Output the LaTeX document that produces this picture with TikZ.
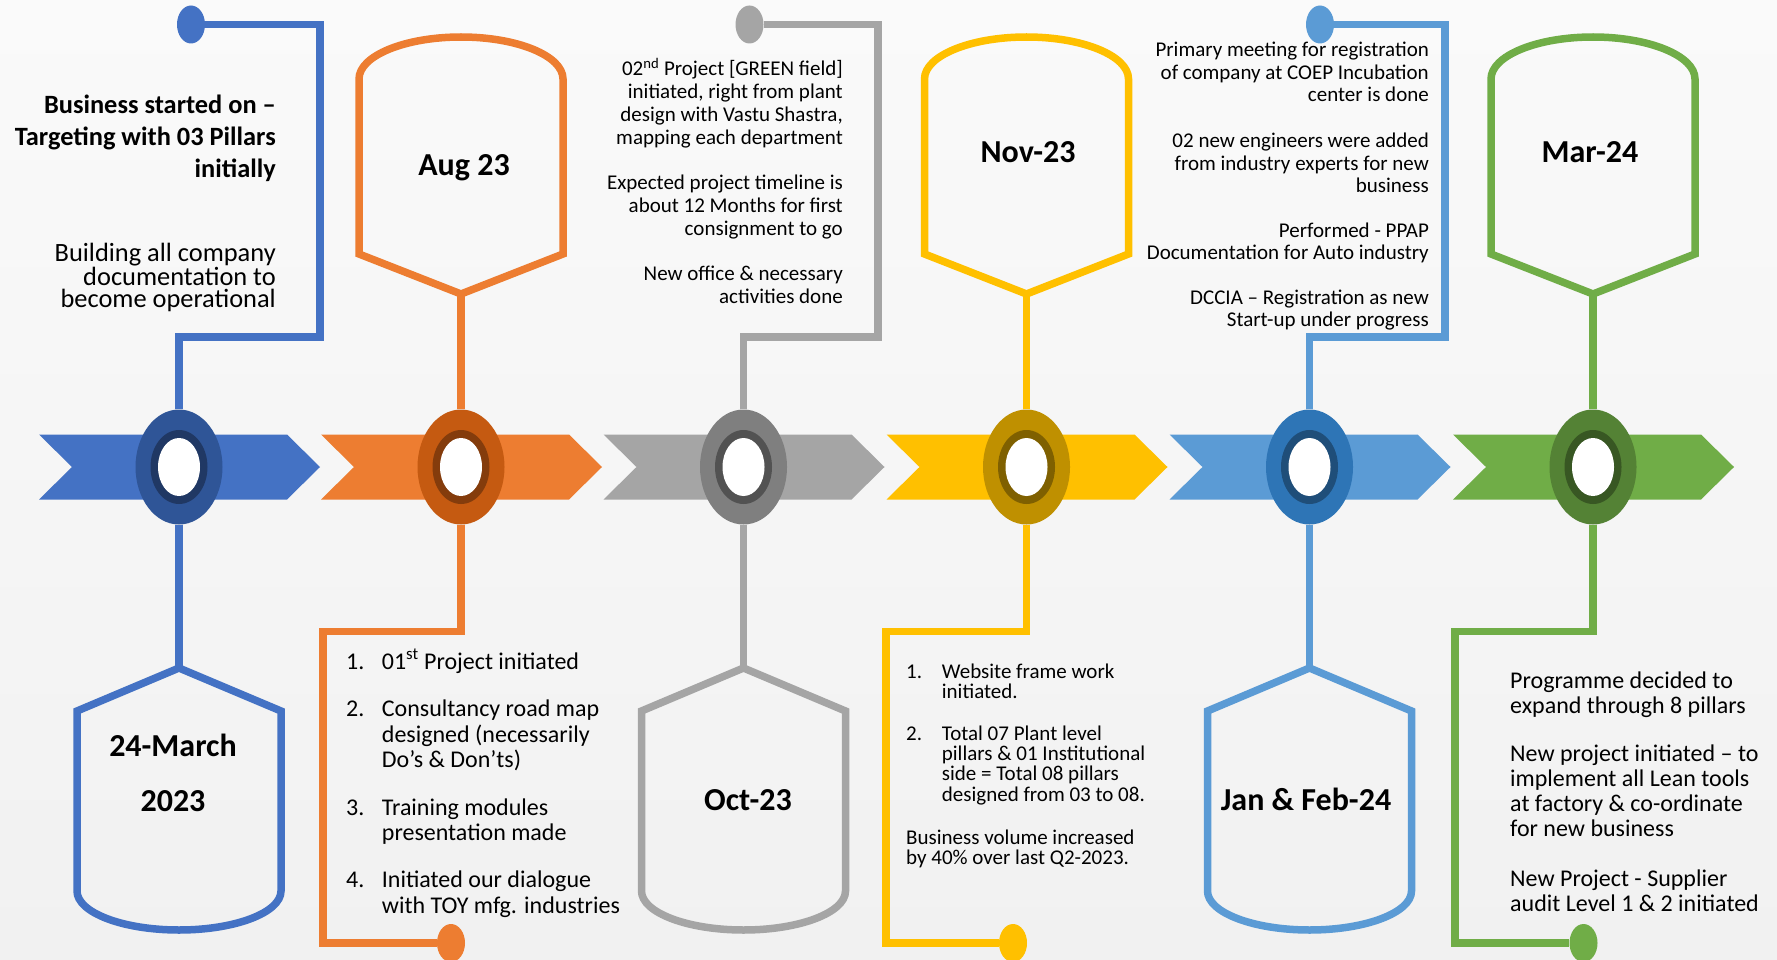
\documentclass[tikz,border=0pt]{standalone}
\usepackage{fontspec}
\setmainfont{Carlito}
\usepackage{tikz}
\usetikzlibrary{shapes.geometric, positioning, calc}
\usepackage{xcolor}

\definecolor{bgTop}{HTML}{FAFAFA}
\definecolor{bgBot}{HTML}{F1F1F1}
\definecolor{blueA}{HTML}{4472C4}
\definecolor{blueB}{HTML}{2F5597}
\definecolor{blueC}{HTML}{203864}
\definecolor{orngA}{HTML}{ED7D31}
\definecolor{orngB}{HTML}{C55A11}
\definecolor{orngC}{HTML}{843C0C}
\definecolor{grayA}{HTML}{A5A5A5}
\definecolor{grayB}{HTML}{7F7F7F}
\definecolor{grayC}{HTML}{525252}
\definecolor{yellA}{HTML}{FFC000}
\definecolor{yellB}{HTML}{BF9000}
\definecolor{yellC}{HTML}{7F6000}
\definecolor{lblueA}{HTML}{5B9BD5}
\definecolor{lblueB}{HTML}{2E75B6}
\definecolor{lblueC}{HTML}{1F4E79}
\definecolor{greenA}{HTML}{70AD47}
\definecolor{greenB}{HTML}{548235}
\definecolor{greenC}{HTML}{385723}

\begin{document}
\begin{tikzpicture}[x=1pt, y=-1pt,
    link/.style={line width=7.5pt},
    tank/.style={line width=7.5pt, line join=miter},
    marker/.style={ellipse, minimum width=87pt, minimum height=115pt, inner sep=0pt},
    dot/.style={ellipse, minimum width=28pt, minimum height=38pt, inner sep=0pt},
    date/.style={font=\fontsize{32}{55}\selectfont\bfseries, inner sep=0pt, align=center, anchor=base},
    lead/.style={font=\fontsize{26.4}{32}\selectfont\bfseries, inner sep=0pt, align=right, anchor=base east},
    note/.style={font=\fontsize{21}{23}\selectfont, inner sep=0pt, align=right, anchor=base east},
    item/.style={font=\fontsize{24}{25.5}\selectfont, inner sep=0pt, align=left, anchor=base west},
    small/.style={font=\fontsize{21}{20.4}\selectfont, inner sep=0pt, align=left, anchor=base west}]

      \useasboundingbox (0,0) rectangle (1777,960);
      \shade[top color=bgTop, bottom color=bgBot] (0,0) rectangle (1777,960);

      % chevron band
      \fill[blueA] (39,434.5) -- (287,434.5) -- (320,467) -- (287,499.5) -- (39,499.5) -- (72,467) -- cycle;
      \fill[orngA] (321,434.5) -- (569,434.5) -- (602,467) -- (569,499.5) -- (321,499.5) -- (354,467) -- cycle;
      \fill[grayA] (603.5,434.5) -- (851.5,434.5) -- (884.5,467) -- (851.5,499.5) -- (603.5,499.5) -- (636.5,467) -- cycle;
      \fill[yellA] (886.5,434.5) -- (1134.5,434.5) -- (1167.5,467) -- (1134.5,499.5) -- (886.5,499.5) -- (919.5,467) -- cycle;
      \fill[lblueA] (1169.5,434.5) -- (1417.5,434.5) -- (1450.5,467) -- (1417.5,499.5) -- (1169.5,499.5) -- (1202.5,467) -- cycle;
      \fill[greenA] (1453,434.5) -- (1701,434.5) -- (1734,467) -- (1701,499.5) -- (1453,499.5) -- (1486,467) -- cycle;

      % markers
      \node[marker, fill=blueB] (m1) at (179,467) {};
      \fill[blueC] (m1.center) ellipse [x radius=28.5pt, y radius=37pt];
      \fill[white] (m1.center) ellipse [x radius=21pt, y radius=29pt];
      \node[marker, fill=orngB] (m2) at (461,467) {};
      \fill[orngC] (m2.center) ellipse [x radius=28.5pt, y radius=37pt];
      \fill[white] (m2.center) ellipse [x radius=21pt, y radius=29pt];
      \node[marker, fill=grayB] (m3) at (743.5,467) {};
      \fill[grayC] (m3.center) ellipse [x radius=28.5pt, y radius=37pt];
      \fill[white] (m3.center) ellipse [x radius=21pt, y radius=29pt];
      \node[marker, fill=yellB] (m4) at (1026.5,467) {};
      \fill[yellC] (m4.center) ellipse [x radius=28.5pt, y radius=37pt];
      \fill[white] (m4.center) ellipse [x radius=21pt, y radius=29pt];
      \node[marker, fill=lblueB] (m5) at (1309.5,467) {};
      \fill[lblueC] (m5.center) ellipse [x radius=28.5pt, y radius=37pt];
      \fill[white] (m5.center) ellipse [x radius=21pt, y radius=29pt];
      \node[marker, fill=greenB] (m6) at (1593,467) {};
      \fill[greenC] (m6.center) ellipse [x radius=28.5pt, y radius=37pt];
      \fill[white] (m6.center) ellipse [x radius=21pt, y radius=29pt];

      % end dots
      \node[dot, fill=blueA] (d1) at (191,24.5) {};
      \node[dot, fill=orngA] (d2) at (451,943) {};
      \node[dot, fill=grayA] (d3) at (749.5,24.5) {};
      \node[dot, fill=yellA] (d4) at (1013,943) {};
      \node[dot, fill=lblueA] (d5) at (1320,24.5) {};
      \node[dot, fill=greenA] (d6) at (1583.5,943) {};

      % step connectors
      \draw[link, blueA] (m1) -- (179,337) -| (320,24.5) -- (d1);
      \draw[link, grayA] (m3) -- (743.5,337) -| (878,24.5) -- (d3);
      \draw[link, lblueA] (m5) -- (1309.5,337) -| (1445,24.5) -- (d5);
      \draw[link, orngA] (m2) -- (461,631.5) -| (323,943) -- (d2);
      \draw[link, yellA] (m4) -- (1026.5,631.5) -| (886,943) -- (d4);
      \draw[link, greenA] (m6) -- (1593,631.5) -| (1455,943) -- (d6);

      % tanks on top
      \coordinate (a2) at (461,294);
      \coordinate (a4) at (1026.5,294);
      \coordinate (a6) at (1593,294);
      \draw[tank, orngA] (359,254) -- (359,79) .. controls (359,55.8) and (404.7,37) .. (461,37)
        .. controls (517.3,37) and (563,55.8) .. (563,79) -- (563,254) -- (a2) -- cycle;
      \draw[tank, yellA] (924.5,254) -- (924.5,79) .. controls (924.5,55.8) and (970.2,37) .. (1026.5,37)
        .. controls (1082.8,37) and (1128.5,55.8) .. (1128.5,79) -- (1128.5,254) -- (a4) -- cycle;
      \draw[tank, greenA] (1491,254) -- (1491,79) .. controls (1491,55.8) and (1536.7,37) .. (1593,37)
        .. controls (1649.3,37) and (1695,55.8) .. (1695,79) -- (1695,254) -- (a6) -- cycle;
      \draw[link, orngA] (m2) -- (a2);
      \draw[link, yellA] (m4) -- (a4);
      \draw[link, greenA] (m6) -- (a6);

      % tanks below
      \coordinate (a1) at (179,668);
      \coordinate (a3) at (743.5,668);
      \coordinate (a5) at (1309.5,668);
      \draw[tank, blueA] (a1) -- (281,711) -- (281,891) .. controls (281,912.5) and (235.3,930) .. (179,930)
        .. controls (122.7,930) and (77,912.5) .. (77,891) -- (77,711) -- cycle;
      \draw[tank, grayA] (a3) -- (845.5,711) -- (845.5,891) .. controls (845.5,912.5) and (799.8,930) .. (743.5,930)
        .. controls (687.2,930) and (641.5,912.5) .. (641.5,891) -- (641.5,711) -- cycle;
      \draw[tank, lblueA] (a5) -- (1411.5,711) -- (1411.5,891) .. controls (1411.5,912.5) and (1365.8,930) .. (1309.5,930)
        .. controls (1253.2,930) and (1207.5,912.5) .. (1207.5,891) -- (1207.5,711) -- cycle;
      \draw[link, blueA] (m1) -- (a1);
      \draw[link, grayA] (m3) -- (a3);
      \draw[link, lblueA] (m5) -- (a5);

      % dates (multi-line nodes sit on their last baseline)
      \node[date] (t1) at (173,811) {24-March\\2023};
      \node[date] (t2) at (464,176) {Aug 23};
      \node[date] (t3) at (748,810) {Oct-23};
      \node[date] (t4) at (1028,163) {Nov-23};
      \node[date] (t5) at (1306,810) {Jan \& Feb-24};
      \node[date] (t6) at (1590,163) {Mar-24};

      % texts above
      \node[lead] (b1) at (276,178) {Business started on –\\Targeting with 03 Pillars\\initially};
      \node[note, font=\fontsize{26.4}{22}\selectfont] (b2) at (276,307) {Building all company\\documentation to\\become operational};

      \node[note] (g1) at (843,145) {02\textsuperscript{nd} Project [GREEN field]\\initiated, right from plant\\design with Vastu Shastra,\\mapping each department};
      \node[note] (g2) at (843,236) {Expected project timeline is\\about 12 Months for first\\consignment to go};
      \node[note] (g3) at (843,303) {New office \& necessary\\activities done};

      \node[note, font=\fontsize{21}{22.5}\selectfont] (l1) at (1429,102) {Primary meeting for registration\\of company at COEP Incubation\\center is done};
      \node[note, font=\fontsize{21}{22.5}\selectfont] (l2) at (1429,193) {02 new engineers were added\\from industry experts for new\\business};
      \node[note, font=\fontsize{21}{22.5}\selectfont] (l3) at (1429,259.5) {Performed - PPAP\\Documentation for Auto industry};
      \node[note, font=\fontsize{21}{22.5}\selectfont] (l4) at (1429,326.5) {DCCIA – Registration as new\\Start-up under progress};

      % texts below
      \node[item] (n1) at (346,669) {1.};
      \node[item] (o1) at (381.7,669) {01\textsuperscript{st} Project initiated};
      \node[item] (n2) at (346,716.5) {2.};
      \node[item] (o2) at (381.7,767.5) {Consultancy road map\\designed (necessarily\\Do’s \& Don’ts)};
      \node[item] (n3) at (346,815) {3.};
      \node[item] (o3) at (381.7,840.5) {Training modules\\presentation made};
      \node[item] (n4) at (346,887.5) {4.};
      \node[item] (o4) at (381.7,913) {Initiated our dialogue\\with TOY mfg. industries};

      \node[small] (k1) at (906,678) {1.};
      \node[small] (y1) at (941.7,698.4) {Website frame work\\initiated.};
      \node[small] (k2) at (906,740) {2.};
      \node[small] (y2) at (941.7,801.2) {Total 07 Plant level\\pillars \& 01 Institutional\\side = Total 08 pillars\\designed from 03 to 08.};
      \node[small] (y3) at (906,864.4) {Business volume increased\\by 40\% over last Q2-2023.};

      \node[item, font=\fontsize{24}{25}\selectfont] (r1) at (1510,713) {Programme decided to\\expand through 8 pillars};
      \node[item, font=\fontsize{24}{25}\selectfont] (r2) at (1510,836.5) {New project initiated – to\\implement all Lean tools\\at factory \& co-ordinate\\for new business};
      \node[item, font=\fontsize{24}{25}\selectfont] (r3) at (1510,911.5) {New Project - Supplier\\audit Level 1 \& 2 initiated};
    \end{tikzpicture}
\end{document}
